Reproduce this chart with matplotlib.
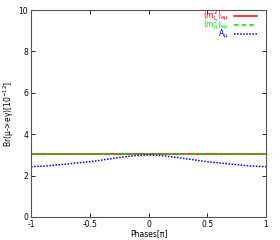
import matplotlib
matplotlib.use('Agg')
import matplotlib.pyplot as plt

# phase in units of pi
phase = [-1, -0.875, -0.75, -0.625, -0.5, -0.375, -0.25, -0.125, 0,
         0.125, 0.25, 0.375, 0.5, 0.625, 0.75, 0.875, 1]
br_mL = [3.02] * 17
br_mR = [3.02] * 17
br_Amu = [2.43, 2.46, 2.53, 2.60, 2.67, 2.77, 2.87, 2.96, 3.00,
          2.96, 2.87, 2.77, 2.67, 2.60, 2.53, 2.46, 2.43]

labels = [r'$\mathrm{(m^2_L)_{e\mu}}$', r'$\mathrm{(m^2_R)_{e\mu}}$', r'$\mathrm{A_\mu}$']
colors = ['#ff0000', '#00dd00', '#0000ff']
styles = ['-', (0, (3, 2)), (0, (1, 1))]

fig = plt.figure(figsize=(2.8, 2.4), dpi=100)
ax = fig.add_axes([0.111, 0.096, 0.839, 0.862])

for ys, c, s in zip([br_mL, br_mR, br_Amu], colors, styles):
    ax.plot(phase, ys, color=c, lw=1.1, ls=s)

# gnuplot style key, top right
rows = [0.972, 0.928, 0.884]
for lab, c, s, yy in zip(labels, colors, styles, rows):
    ax.plot([0.864, 0.962], [yy, yy], transform=ax.transAxes, color=c, lw=1.1, ls=s)
    ax.text(0.843, yy, lab, transform=ax.transAxes, color=c, fontsize=5.5,
            ha='right', va='center')

ax.set_xlim(-1, 1)
ax.set_ylim(0, 10)
ax.set_xticks([-1, -0.5, 0, 0.5, 1])
ax.set_xticklabels(['-1', '-0.5', '0', '0.5', '1'])
ax.set_yticks([0, 2, 4, 6, 8, 10])
ax.tick_params(direction='in', top=True, right=True, labelsize=5.5, length=3, width=0.6, pad=2)
for sp in ax.spines.values():
    sp.set_linewidth(0.8)
    sp.set_color('#555555')

ax.set_xlabel('Phases[π]', fontsize=5.5, labelpad=0)
ax.set_ylabel('Br(μ->eγ)[10$^{-12}$]', fontsize=5.5, labelpad=2)

plt.savefig('out.png', dpi=100)
